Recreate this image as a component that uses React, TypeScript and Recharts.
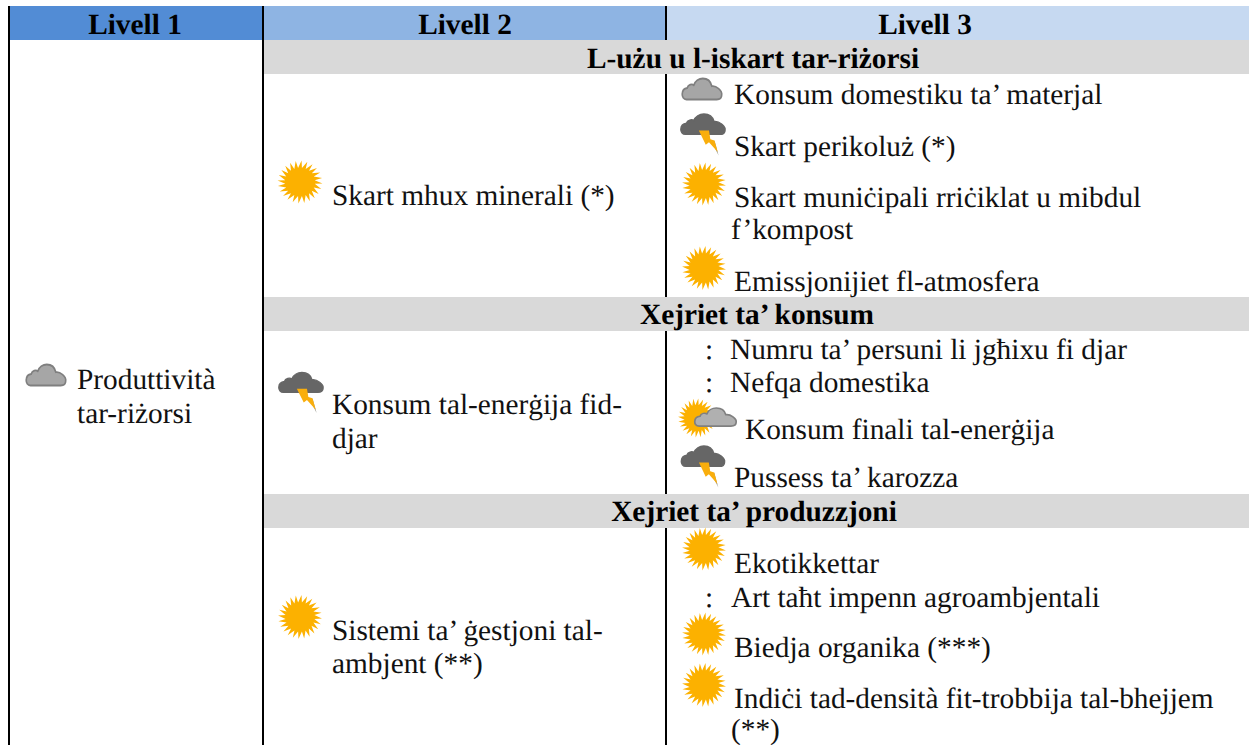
import { ScatterChart, Scatter, XAxis, YAxis, ReferenceArea, ReferenceLine } from 'recharts';

const WIDTH = 1249;
const HEIGHT = 745;
const SERIF = '"Liberation Serif", "Times New Roman", serif';
const FONT_SIZE = 29.33;

// table content
const headers = ['Livell 1', 'Livell 2', 'Livell 3'];
const sections = ['L-użu u l-iskart tar-riżorsi', 'Xejriet ta’ konsum', 'Xejriet ta’ produzzjoni'];
const bodyLines = [
  'Produttività',
  'tar-riżorsi',
  'Skart mhux minerali (*)',
  'Konsum tal-enerġija fid-',
  'djar',
  'Sistemi ta’ ġestjoni tal-',
  'ambjent (**)',
  'Konsum domestiku ta’ materjal',
  'Skart perikoluż (*)',
  'Skart muniċipali rriċiklat u mibdul',
  'f’kompost',
  'Emissjonijiet fl-atmosfera',
  ':',
  'Numru ta’ persuni li jgħixu fi djar',
  ':',
  'Nefqa domestika',
  'Konsum finali tal-enerġija',
  'Pussess ta’ karozza',
  'Ekotikkettar',
  ':',
  'Art taħt impenn agroambjentali',
  'Biedja organika (***)',
  'Indiċi tad-densità fit-trobbija tal-bhejjem',
  '(**)',
];
const statuses = [
  'cloud', 'sun', 'storm', 'sun',
  'cloud', 'storm', 'sun', 'sun',
  'suncloud', 'storm',
  'sun', 'sun', 'sun',
];

// layout, kept apart from the content
const headerCentres = [135, 465, 925];
const sectionCentres = [753, 757, 754];
const sectionBaselines = [68, 324, 521];
const sectionBands = [[40, 74], [297, 331], [494, 528]];
const columnLines = [9, 263];
const thirdColumnSpans = [[6, 40], [74, 297], [331, 494], [528, 745]];
const lineX = [
  77, 77, 332, 332, 332, 332, 332, 734, 734, 734, 731, 734,
  705, 730, 705, 730, 745, 734, 734, 705, 731, 734, 734, 731,
];
const lineY = [
  389, 423, 205, 414, 448, 640, 673, 104, 156, 207, 239, 291,
  359, 359, 392, 392, 439, 487, 573, 607, 607, 657, 708, 739,
];
const iconX = [46, 300, 301, 300, 702, 703, 704, 704, 709, 703, 704, 704, 704];
const iconY = [374, 182, 392, 617, 88, 134, 184, 268, 418, 466, 549, 634, 685];
const iconW = [41, 45, 46, 44, 41, 46, 44, 44, 56, 45, 44, 44, 44];
const iconH = [23, 43, 42, 44, 23, 43, 43, 44, 39, 43, 43, 43, 44];

const lineData = bodyLines.map((label, i) => ({ x: lineX[i], y: lineY[i], label }));
const headerData = headers.map((label, i) => ({ x: headerCentres[i], y: 34, label }));
const sectionData = sections.map((label, i) => ({ x: sectionCentres[i], y: sectionBaselines[i], label }));
const iconData = statuses.map((status, i) => ({ x: iconX[i], y: iconY[i], status, w: iconW[i], h: iconH[i] }));

const sunPath = (() => {
  const pts: string[] = [];
  const rays = 24;
  for (let i = 0; i < rays; i++) {
    const a = (i / rays) * Math.PI * 2;
    const b = ((i + 0.5) / rays) * Math.PI * 2;
    pts.push(`${50 * Math.cos(a + 0.07)},${50 * Math.sin(a + 0.07)}`);
    pts.push(`${33 * Math.cos(b)},${33 * Math.sin(b)}`);
  }
  return `M${pts.join('L')}Z`;
})();

const CLOUD =
  'M-38,24 C-52,24 -52,0 -36,-2 C-34,-10 -24,-12 -20,-8 C-14,-28 18,-30 24,-6 C34,-8 50,4 48,14 C48,22 42,24 36,24 Z';

const Sun = () => <path d={sunPath} fill="#fcb100" />;

const Cloud = ({ fill, stroke }: { fill: string; stroke: string }) => (
  <path d={CLOUD} fill={fill} stroke={stroke} strokeWidth={4} strokeLinejoin="round" />
);

const Icon = ({ cx, cy, payload }: any) => {
  const { status, w, h } = payload;
  if (status === 'sun') {
    return (
      <g transform={`translate(${cx},${cy}) scale(${w / 100},${h / 100})`}>
        <Sun />
      </g>
    );
  }
  if (status === 'cloud') {
    return (
      <g transform={`translate(${cx},${cy}) scale(${w / 100},${h / 52}) translate(0,2)`}>
        <Cloud fill="#a6a6a6" stroke="#7f7f7f" />
      </g>
    );
  }
  if (status === 'storm') {
    return (
      <g transform={`translate(${cx},${cy}) scale(${w / 100},${h / 100})`}>
        <g transform="translate(0,-23)">
          <path d={CLOUD} fill="#666666" stroke="#666666" strokeWidth={3} />
        </g>
        <path d="M25,15 L34,50 L22,25 Z" fill="#9a9a90" />
        <path d="M-9,-8 L13,-8 L16,12 L25,15 L32,42 L13,19 L6,25 Z" fill="#f9ae0c" />
      </g>
    );
  }
  return (
    <g transform={`translate(${cx},${cy})`}>
      <g transform="translate(-12,0) scale(0.38,0.39)">
        <Sun />
      </g>
      <g transform="translate(6.5,-1) scale(0.43,0.38)">
        <Cloud fill="#b0b0b0" stroke="#808080" />
      </g>
    </g>
  );
};

const BodyText = ({ cx, cy, payload }: any) => (
  <text x={cx} y={cy} fontFamily={SERIF} fontSize={FONT_SIZE} textRendering="geometricPrecision" fill="#111">
    {payload.label}
  </text>
);

const BoldText = ({ cx, cy, payload }: any) => (
  <text
    x={cx}
    y={cy}
    fontFamily={SERIF}
    fontSize={FONT_SIZE}
    fontWeight={700}
    textRendering="geometricPrecision"
    textAnchor="middle"
    fill="#000"
  >
    {payload.label}
  </text>
);

export default function App() {
  return (
    <div style={{ position: 'absolute', left: 0, top: 0, width: WIDTH, height: HEIGHT, background: '#fff' }}>
      <ScatterChart width={WIDTH} height={HEIGHT} margin={{ top: 0, right: 0, bottom: 0, left: 0 }}>
        <XAxis type="number" dataKey="x" domain={[0, WIDTH]} hide />
        <YAxis type="number" dataKey="y" domain={[0, HEIGHT]} reversed hide />

        <ReferenceArea x1={9} x2={263} y1={6} y2={40} fill="#528cd5" fillOpacity={1} stroke="none" />
        <ReferenceArea x1={263} x2={666} y1={6} y2={40} fill="#8eb4e3" fillOpacity={1} stroke="none" />
        <ReferenceArea x1={666} x2={WIDTH} y1={6} y2={40} fill="#c6d9f1" fillOpacity={1} stroke="none" />
        {sectionBands.map(([y1, y2]) => (
          <ReferenceArea key={y1} x1={263} x2={WIDTH} y1={y1} y2={y2} fill="#d9d9d9" fillOpacity={1} stroke="none" />
        ))}

        {columnLines.map((x) => (
          <ReferenceLine key={x} segment={[{ x, y: 6 }, { x, y: HEIGHT }]} stroke="#000" strokeWidth={2} />
        ))}
        {thirdColumnSpans.map(([y1, y2]) => (
          <ReferenceLine key={y1} segment={[{ x: 666, y: y1 }, { x: 666, y: y2 }]} stroke="#000" strokeWidth={2} />
        ))}

        <Scatter data={iconData} shape={Icon} isAnimationActive={false} />
        <Scatter data={lineData} shape={BodyText} isAnimationActive={false} />
        <Scatter data={headerData} shape={BoldText} isAnimationActive={false} />
        <Scatter data={sectionData} shape={BoldText} isAnimationActive={false} />
      </ScatterChart>
    </div>
  );
}
